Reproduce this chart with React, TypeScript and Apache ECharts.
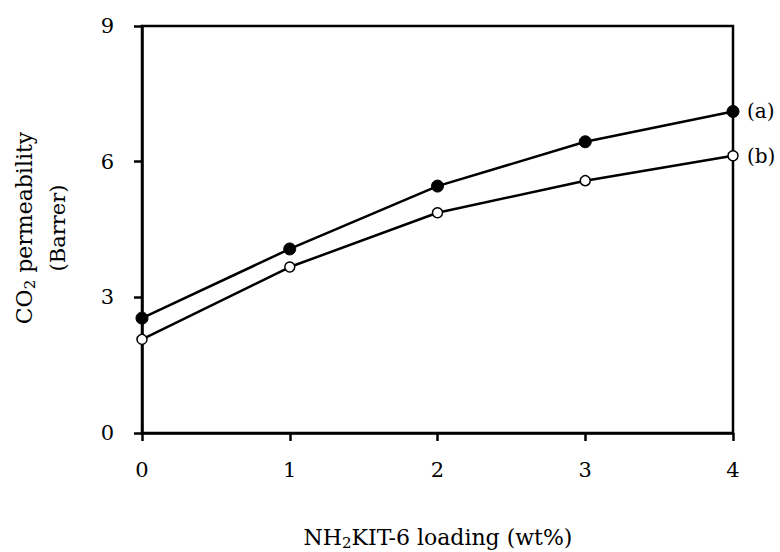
import React, { useEffect, useRef } from "react";
import * as echarts from "echarts";

const loadings = [0, 1, 2, 3, 4];
const seriesA = [2.54, 4.07, 5.46, 6.44, 7.11];
const seriesB = [2.07, 3.67, 4.87, 5.58, 6.13];
const yTicks = [0, 3, 6, 9];

const FONT = "'DejaVu Serif', 'Liberation Serif', serif";

export default function App() {
  const ref = useRef<HTMLDivElement>(null);
  useEffect(() => {
    if (!ref.current) return;
    const chart = echarts.init(ref.current, undefined, { renderer: "svg" });
    const mk = (vals: number[]) => loadings.map((x, i) => [x, vals[i]]);
    const richTitle = {
      n: { fontFamily: FONT, fontSize: 22, fill: "#000", color: "#000", lineHeight: 26 },
      s: { fontFamily: FONT, fontSize: 15, fill: "#000", color: "#000", lineHeight: 26, verticalAlign: "bottom", padding: [10, 0, 0, 0] },
    };
    chart.setOption({
      animation: false,
      backgroundColor: "#ffffff",
      grid: {
        left: 142,
        right: 47,
        top: 26,
        bottom: 119,
        show: true,
        borderColor: "#000",
        borderWidth: 2.5,
        backgroundColor: "transparent",
      },
      xAxis: {
        type: "value",
        min: 0,
        max: 4,
        interval: 1,
        axisLine: { show: true, lineStyle: { color: "#000", width: 2.5 } },
        axisTick: { show: true, length: 8, lineStyle: { color: "#000", width: 2.5 } },
        axisLabel: { color: "#000", fontFamily: FONT, fontSize: 21, margin: 26 },
        splitLine: { show: false },
      },
      yAxis: {
        type: "value",
        min: 0,
        max: 9,
        interval: 3,
        axisLine: { show: true, lineStyle: { color: "#000", width: 2.5 } },
        axisTick: { show: true, length: 8, lineStyle: { color: "#000", width: 2.5 } },
        axisLabel: {
          color: "#000",
          fontFamily: FONT,
          fontSize: 21,
          margin: 28,
          formatter: (v: number) => (yTicks.includes(v) ? String(v) : ""),
        },
        splitLine: { show: false },
      },
      graphic: [
        {
          type: "text",
          x: 24,
          y: 228,
          rotation: Math.PI / 2,
          style: {
            text: "{n|CO}{s|2}{n| permeability}",
            align: "center",
            verticalAlign: "middle",
            fill: "#000",
            rich: richTitle,
          },
        },
        {
          type: "text",
          x: 58,
          y: 228,
          rotation: Math.PI / 2,
          style: {
            text: "(Barrer)",
            align: "center",
            verticalAlign: "middle",
            fontFamily: FONT,
            fontSize: 21,
            fill: "#000",
          },
        },
        {
          type: "text",
          x: 438,
          y: 537,
          style: {
            text: "{n|NH}{s|2}{n|KIT-6 loading (wt%)}",
            align: "center",
            verticalAlign: "middle",
            fill: "#000",
            rich: richTitle,
          },
        },
      ],
      series: [
        {
          type: "line",
          data: mk(seriesA),
          symbol: "circle",
          symbolSize: 12,
          lineStyle: { color: "#000", width: 2.5 },
          itemStyle: { color: "#000", borderColor: "#000", borderWidth: 1 },
          endLabel: {
            show: true,
            formatter: "(a)",
            color: "#000",
            fontFamily: FONT,
            fontSize: 20,
            distance: 14,
          },
          z: 3,
        },
        {
          type: "line",
          data: mk(seriesB),
          symbol: "circle",
          symbolSize: 10,
          lineStyle: { color: "#000", width: 2.5 },
          itemStyle: { color: "#fff", borderColor: "#000", borderWidth: 1.5 },
          endLabel: {
            show: true,
            formatter: "(b)",
            color: "#000",
            fontFamily: FONT,
            fontSize: 20,
            distance: 14,
          },
          z: 3,
        },
      ],
    });
    return () => chart.dispose();
  }, []);
  return (
    <div
      ref={ref}
      style={{ position: "fixed", left: 0, top: 0, width: 780, height: 552, background: "#fff" }}
    />
  );
}
